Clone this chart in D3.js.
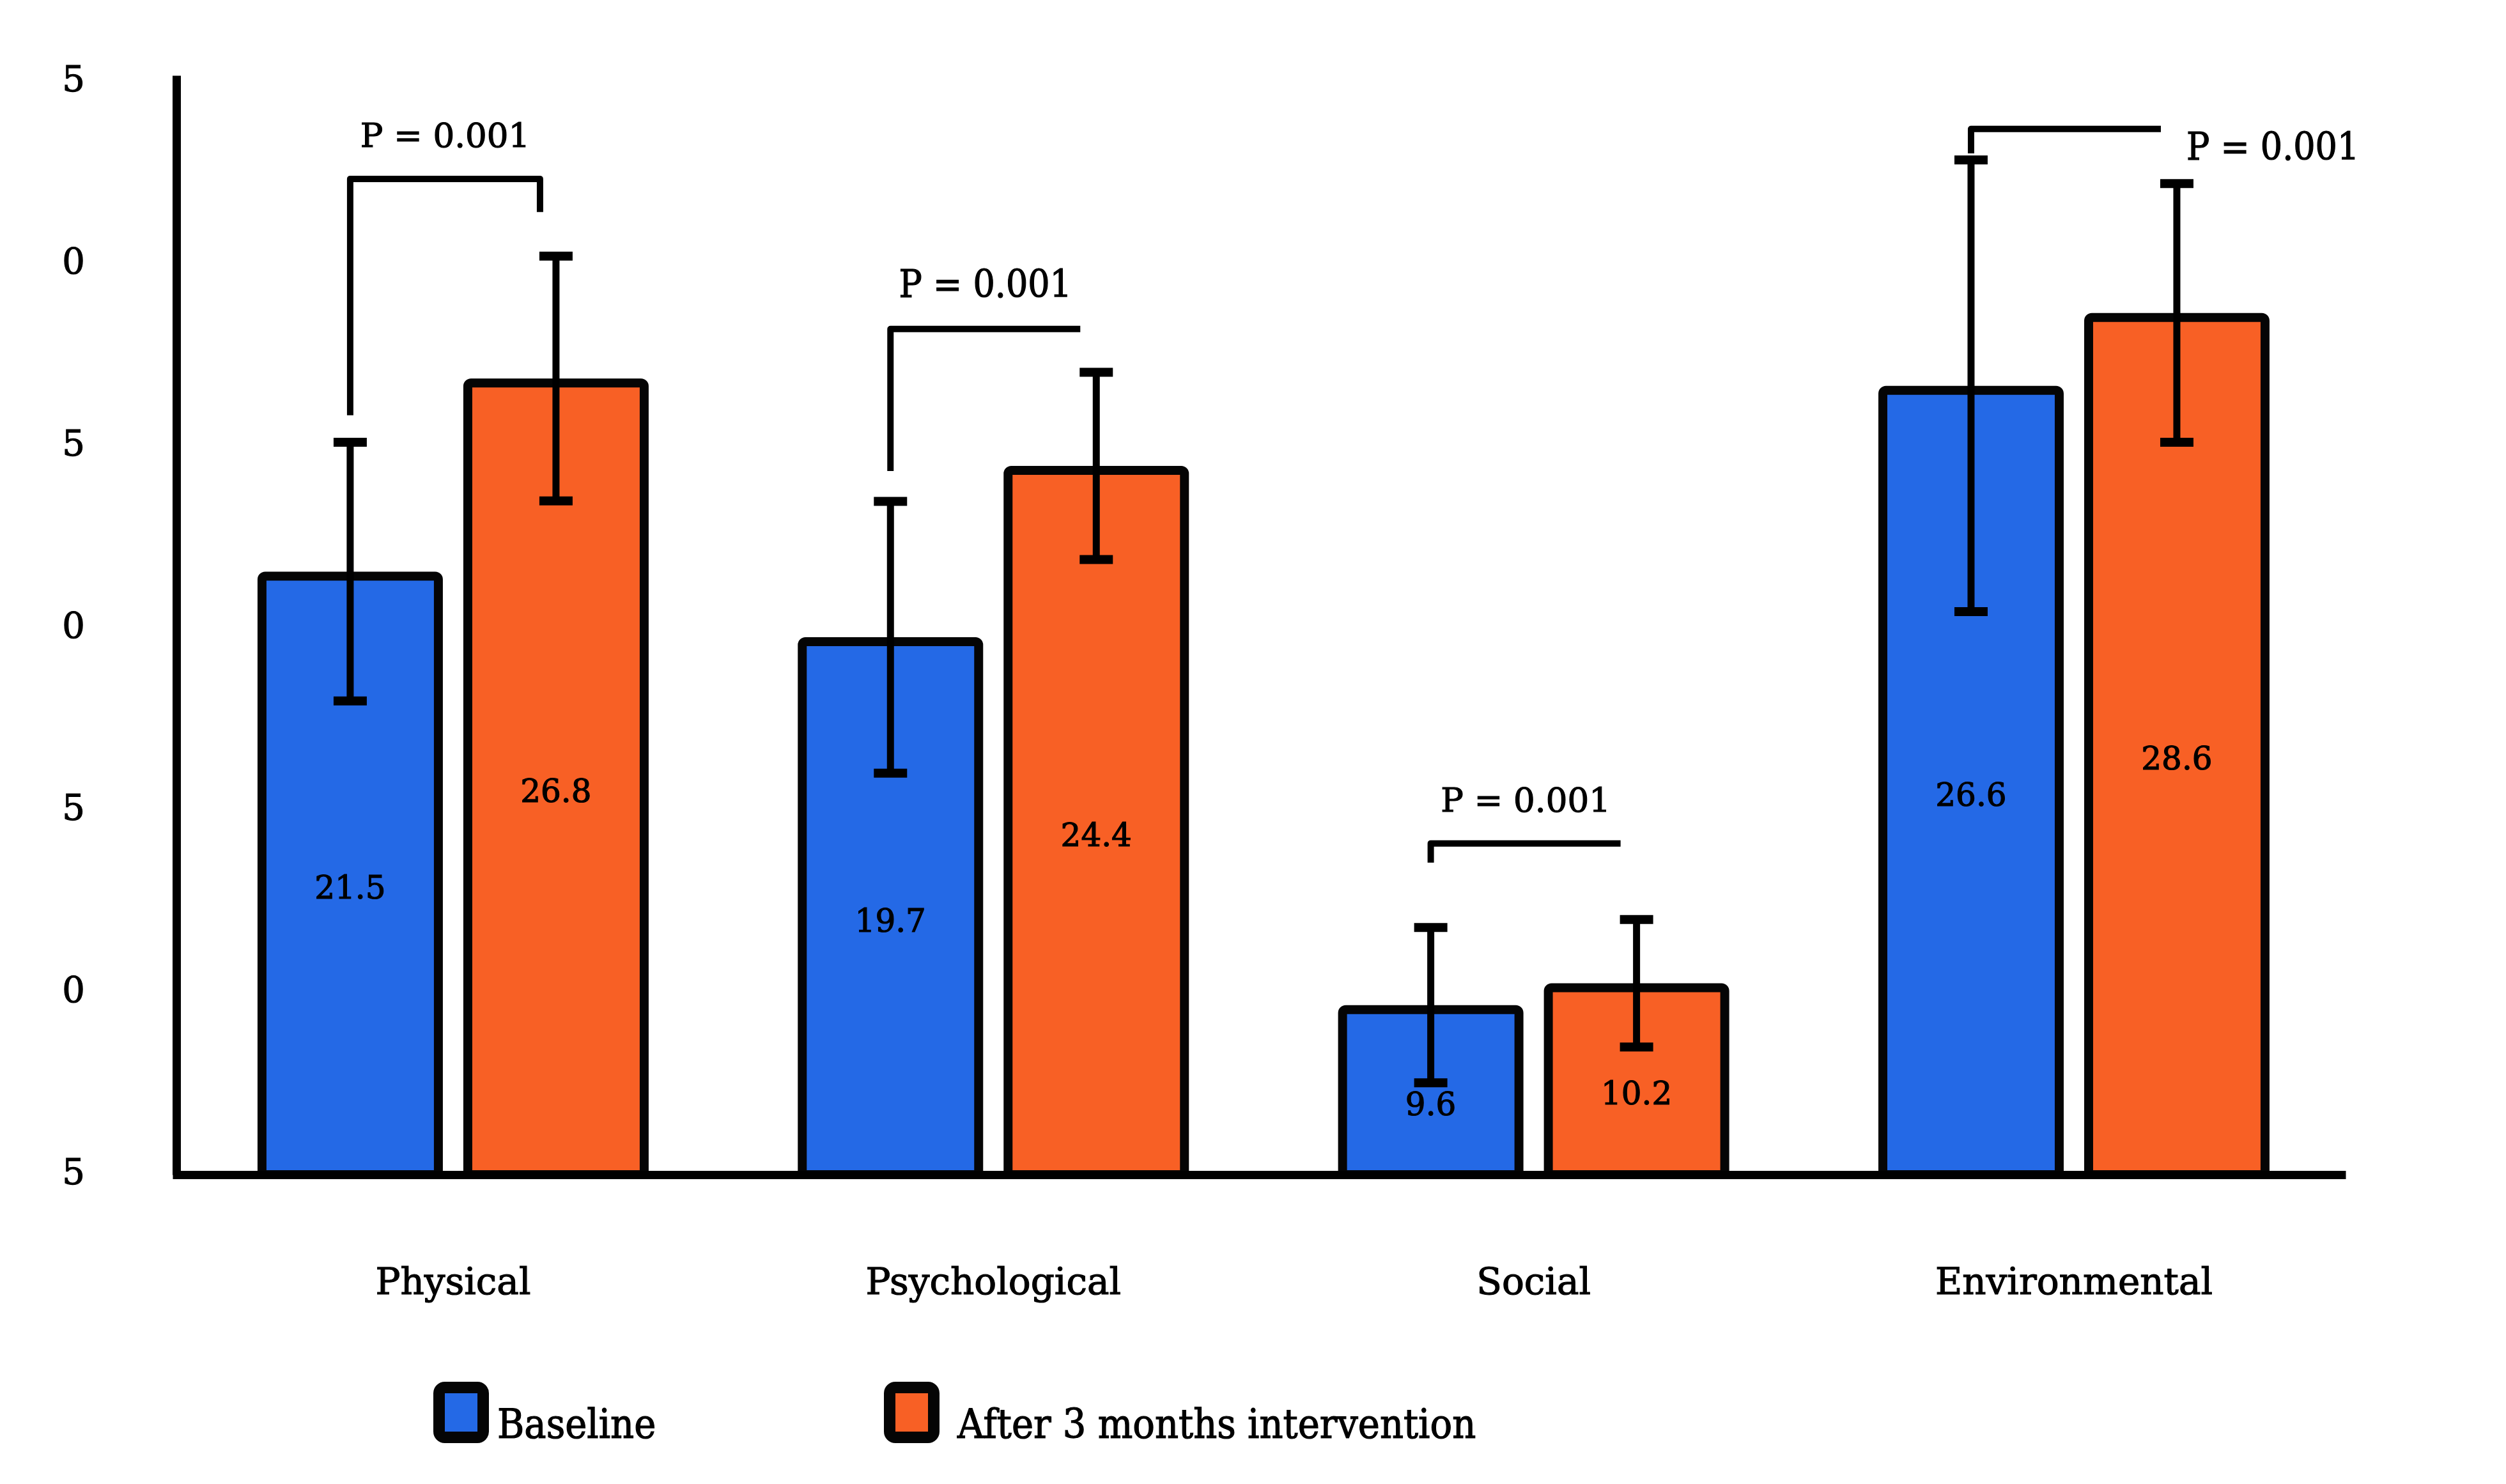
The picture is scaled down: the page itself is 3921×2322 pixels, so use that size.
<!DOCTYPE html>
<html lang="en">
<head>
  <meta charset="UTF-8" />
  <title>Quality of life domains - baseline vs after 3 months</title>
  <script src="https://d3js.org/d3.v7.min.js"></script>
  <style>
    body { margin: 0; background: #fff; }
    svg { display: block; background: #fff; font-family: "DejaVu Serif", serif; }
    svg text { stroke: #000; stroke-width: 1.2px; paint-order: stroke; }
    .cond { font-family: "DejaVu Serif Condensed", "DejaVu Serif", serif; font-stretch: condensed; }
  </style>
</head>
<body>

<svg width="3921" height="2322"></svg>

<script>
  // data
  const categories = ["Physical", "Psychological", "Social", "Environmental"];
  const seriesNames = ["Baseline", "After 3 months intervention"];
  const baseline = [21.5, 19.7, 9.6, 26.6];
  const after3m = [26.8, 24.4, 10.2, 28.6];
  const baselineSD = [3.55, 3.73, 2.13, 6.2];
  const after3mSD = [3.36, 2.57, 1.75, 3.55];
  const yTicks = [5, 10, 15, 20, 25, 30, 35];
  const yTickLabels = ["5", "0", "5", "0", "5", "0", "5"];
  const pLabels = ["P = 0.001", "P = 0.001", "P = 0.001", "P = 0.001"];
  // significance brackets, in data units
  const bracketLevel = [32.28, 28.16, 14.04, 33.65];
  const bracketLeftEnd = [25.79, 24.26, 13.51, 32.98];
  const bracketRightEnd = [31.37, null, null, null];

  const svg = d3.select("svg");
  const axisX = 276, yLow = 4.947, yHigh = 35.12;

  const y = d3.scaleLinear().domain([yLow, yHigh]).range([1838, 118]);
  const x0 = d3.scaleBand().domain(categories).range([270, 3670])
    .paddingInner(0.2).paddingOuter(0.111).align(0.537);
  const x1 = d3.scaleBand().domain(seriesNames).range([-306, 306]).paddingInner(0.0994);
  const color = d3.scaleOrdinal().domain(seriesNames).range(["#2469E6", "#F86025"]);

  const rows = categories.map((c, i) => ({
    cat: c, i,
    vals: [
      {s: seriesNames[0], v: baseline[i], sd: baselineSD[i]},
      {s: seriesNames[1], v: after3m[i], sd: after3mSD[i]}
    ]
  }));

  const cx = (cat, s) => x0(cat) + x0.bandwidth() / 2 + x1(s) + x1.bandwidth() / 2;
  const sw = 14;

  const groups = svg.append("g").selectAll("g")
    .data(rows).enter().append("g");

  // bars
  groups.selectAll("rect")
    .data(d => d.vals.map(v => ({...v, cat: d.cat})))
    .enter().append("rect")
    .attr("x", d => x0(d.cat) + x0.bandwidth() / 2 + x1(d.s) + sw / 2)
    .attr("y", d => y(d.v) + sw / 2)
    .attr("width", x1.bandwidth() - sw)
    .attr("height", d => y(yLow) - y(d.v) - sw / 2)
    .attr("rx", 5)
    .attr("fill", d => color(d.s))
    .attr("stroke", "#050505")
    .attr("stroke-width", sw);

  // error bars
  const err = groups.selectAll(".err")
    .data(d => d.vals.map(v => ({...v, cat: d.cat})))
    .enter().append("g").attr("class", "err");

  err.append("line")
    .attr("x1", d => cx(d.cat, d.s)).attr("x2", d => cx(d.cat, d.s))
    .attr("y1", d => y(d.v + d.sd)).attr("y2", d => y(d.v - d.sd))
    .attr("stroke", "#000").attr("stroke-width", 11);

  [1, -1].forEach(sign => {
    err.append("line")
      .attr("x1", d => cx(d.cat, d.s) - 26).attr("x2", d => cx(d.cat, d.s) + 26)
      .attr("y1", d => y(d.v + sign * d.sd)).attr("y2", d => y(d.v + sign * d.sd))
      .attr("stroke", "#000").attr("stroke-width", 14);
  });

  // value labels inside the bars
  groups.selectAll(".val")
    .data(d => d.vals.map(v => ({...v, cat: d.cat})))
    .enter().append("text")
    .attr("class", "val")
    .attr("x", d => cx(d.cat, d.s))
    .attr("y", d => (y(d.v) + y(yLow)) / 2 + 40)
    .attr("text-anchor", "middle")
    .attr("font-size", 50)
    .attr("fill", "#000")
    .text(d => d.v.toFixed(1));

  // significance brackets
  groups.append("path")
    .attr("d", d => {
      const xl = cx(d.cat, seriesNames[0]);
      const xr = cx(d.cat, seriesNames[1]) - 25;
      let p = `M${xl},${y(bracketLeftEnd[d.i])}V${y(bracketLevel[d.i])}H${xr}`;
      if (bracketRightEnd[d.i] != null) p += `V${y(bracketRightEnd[d.i])}`;
      return p;
    })
    .attr("fill", "none")
    .attr("stroke", "#000")
    .attr("stroke-width", 10)
    .attr("stroke-linejoin", "round");

  const condensedP = new Set(["Psychological", "Environmental"]);
  const last = categories.length - 1;
  groups.append("text")
    .attr("class", d => condensedP.has(d.cat) ? "cond" : null)
    .attr("x", d => {
      const xl = cx(d.cat, seriesNames[0]);
      const xr = cx(d.cat, seriesNames[1]) - 25;
      return d.i === last ? xr + 40 : (xl + xr) / 2;
    })
    .attr("y", d => d.i === last ? y(bracketLevel[d.i]) + 48 : y(bracketLevel[d.i]) - 50)
    .attr("text-anchor", d => d.i === last ? "start" : "middle")
    .attr("font-size", d => condensedP.has(d.cat) ? 60 : 53)
    .attr("fill", "#000")
    .text(d => pLabels[d.i]);

  // axes
  const yAxis = svg.append("g")
    .attr("transform", `translate(${axisX},0)`)
    .call(d3.axisLeft(y).tickValues(yTicks).tickFormat((d, i) => yTickLabels[i])
      .tickSize(0).tickSizeOuter(0).tickPadding(143));
  yAxis.attr("font-family", null).attr("font-size", 56);
  yAxis.select(".domain").attr("stroke", "#000").attr("stroke-width", 13);
  yAxis.selectAll("text").attr("fill", "#000");

  const xAxis = svg.append("g")
    .attr("transform", `translate(0,${y(yLow)})`)
    .call(d3.axisBottom(x0).tickSize(0).tickSizeOuter(0).tickPadding(146));
  xAxis.attr("font-family", null).attr("font-size", 58);
  xAxis.select(".domain").attr("stroke", "#000").attr("stroke-width", 13);
  xAxis.selectAll("text").attr("fill", "#000");

  // legend
  const legend = svg.append("g").attr("transform", "translate(687,2171)");
  const item = legend.selectAll("g")
    .data(seriesNames).enter().append("g")
    .attr("transform", (d, i) => `translate(${i * 705},0)`);

  item.append("rect")
    .attr("width", 69).attr("height", 78).attr("rx", 9)
    .attr("fill", d => color(d))
    .attr("stroke", "#050505").attr("stroke-width", 18);

  item.append("text")
    .attr("class", "cond")
    .attr("x", (d, i) => i === 0 ? 91 : 106)
    .attr("y", 79)
    .attr("font-size", 64)
    .attr("fill", "#000")
    .text(d => d);
</script>

</body>
</html>
